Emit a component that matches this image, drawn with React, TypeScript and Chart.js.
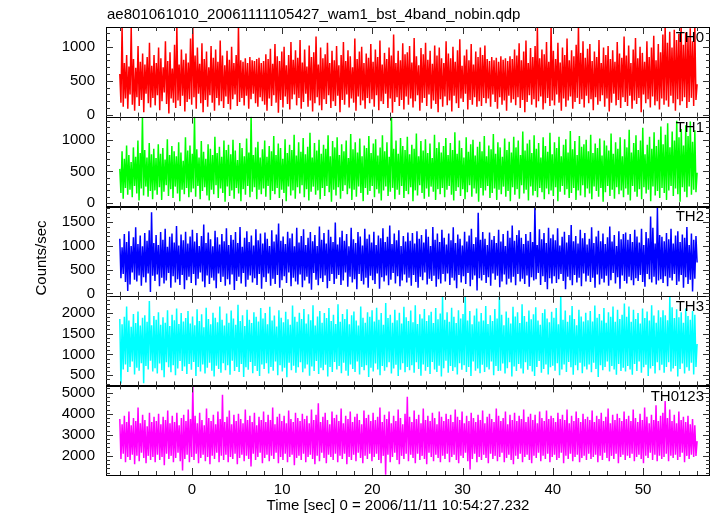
import React, { useEffect, useRef } from 'react';
import { Chart, registerables } from 'chart.js';

Chart.register(...registerables);

const TITLE = 'ae801061010_20061111105427_wam1_bst_4band_nobin.qdp';
const X_TITLE = 'Time [sec] 0 = 2006/11/11 10:54:27.232';
const Y_TITLE = 'Counts/sec';

const T_START = -8;
const T_END = 56;
const X_MIN = -9.53;
const X_MAX = 57.43;
const X_MAJOR = [0, 10, 20, 30, 40, 50];
const X_MINOR_STEP = 2;

const BANDS = ['TH0', 'TH1', 'TH2', 'TH3', 'TH0123'];
const COLORS = ['#ff0000', '#00ff00', '#0000ff', '#00ffff', '#ff00ff'];
const Y_MIN = [-25, -50, -50, 257, 1091];
const Y_MAX = [1290, 1367, 1836, 2405, 5344];
const Y_TICKS = [
  [0, 500, 1000],
  [0, 500, 1000],
  [0, 500, 1000, 1500],
  [500, 1000, 1500, 2000],
  [2000, 3000, 4000, 5000],
];
const Y_MINOR = [100, 100, 100, 100, 200];

const TH0 = [
  600, 180, 1290, 120, 760, 240, 880, 90, 710, 300, 1290, 150, 820, 60, 690, 260, 1010, 130, 780, 220, 900, 40, 740, 310, 850, 170, 1060, 110, 720, 250,
  880, 140, 760, 290, 990, 70, 830, 200, 700, 330, 1080, 160, 790, 20, 920, 240, 680, 180, 1030, 100, 1290, 210, 740, 130, 960, 280, 810, 50, 900, 190, 770,
  230, 1120, 150, 1300, 260, 870, 90, 990, 310, 750, 170, 1050, 40, 820, 220, 930, 120, 700, 290, 1010, 180, 840, 60, 960, 250, 780, 140, 1090, 200, 870, 100, 730,
  270, 940, 160, 810, 80, 1000, 230, 760, 300, 880, 130, 1300, 190, 800, 250, 780, 140, 830, 280, 760, 90, 850, 230, 800, 310, 790, 170, 820, 120, 840, 260,
  760, 200, 790, 150, 890, 60, 820, 240, 970, 130, 750, 290, 1040, 180, 860, 30, 790, 220, 930, 110, 1000, 270, 730, 160, 880, 80, 1070, 230, 810, 300, 950, 140,
  840, 250, 1100, 90, 770, 190, 960, 310, 710, 120, 1020, 210, 850, 50, 920, 170, 1150, 260, 740, 140, 990, 70, 830, 230, 890, 160, 1060, 290, 760, 100, 940, 200,
  800, 130, 1010, 280, 730, 40, 880, 220, 1070, 150, 790, 300, 950, 110, 860, 240, 700, 180, 1120, 60, 820, 270, 930, 140, 1000, 210, 760, 90, 900, 250, 840, 170,
  1040, 230, 780, 120, 960, 290, 850, 70, 1090, 200, 740, 160, 910, 310, 820, 100, 990, 240, 870, 30, 1180, 190, 760, 260, 940, 130, 800, 220, 1050, 80, 890, 270,
  920, 150, 1010, 240, 770, 110, 1130, 200, 860, 290, 730, 60, 980, 180, 890, 250, 1060, 130, 810, 300, 940, 90, 750, 210, 1020, 160, 870, 40, 990, 230, 830, 120,
  760, 270, 1080, 140, 900, 210, 830, 50, 1000, 280, 780, 170, 950, 100, 1110, 240, 720, 190, 870, 310, 960, 80, 800, 220, 1040, 150, 740, 260, 930, 120, 850, 200,
  990, 130, 880, 250, 1020, 170, 820, 240, 790, 120, 850, 300, 800, 190, 840, 90, 780, 260, 860, 150, 810, 210, 830, 60, 790, 280, 860, 180, 820, 230, 960, 140,
  870, 260, 1050, 100, 800, 220, 930, 40, 1090, 190, 760, 290, 980, 150, 850, 230, 1010, 110, 1290, 200, 830, 270, 960, 80, 890, 170, 1070, 250, 780, 130, 1300, 210,
  940, 140, 820, 300, 1060, 180, 770, 60, 990, 240, 880, 120, 1120, 210, 800, 270, 950, 90, 860, 190, 1030, 250, 1300, 160, 910, 230, 1080, 110, 840, 280, 970,
  170, 1040, 230, 790, 70, 930, 260, 850, 150, 1100, 200, 760, 290, 990, 120, 880, 240, 1010, 50, 820, 180, 950, 310, 780, 140, 1070, 220, 900, 100, 840, 260, 1150,
  190, 870, 130, 1020, 280, 760, 90, 960, 210, 1130, 160, 830, 250, 1000, 40, 910, 300, 780, 170, 1080, 230, 850, 110, 990, 270, 1160, 140, 800, 200, 1040, 80, 920,
  240, 1180, 150, 1300, 210, 1060, 120, 1220, 280, 990, 170, 1250, 60, 1100, 230, 1190, 140, 1280, 200, 1030, 260, 1210, 100, 1140, 190, 1270, 250, 1080, 130, 1300, 220,
  450,
];

const TH1 = [
  540, 160, 820, 70, 700, 240, 910, 130, 760, 210, 650, 90, 880, 270, 730, 150, 990, 40, 790, 230, 1360, 120, 840, 260, 720, 100, 950, 190, 770, 60, 860,
  200, 710, 130, 930, 250, 780, 50, 870, 180, 690, 280, 1010, 110, 760, 220, 900, 80, 820, 260, 740, 150, 960, 30, 800, 210, 670, 140, 1040, 240, 830, 90, 910,
  170, 780, 230, 1370, 100, 850, 270, 720, 60, 980, 190, 810, 250, 700, 120, 930, 40, 860, 210, 760, 140, 1050, 280, 790, 80, 890, 230, 730, 160, 990, 20, 840,
  260, 920, 110, 770, 200, 1000, 70, 830, 240, 680, 150, 950, 30, 870, 220, 740, 130, 1020, 270, 800, 90, 1370, 180, 760, 250, 880, 60, 970, 210, 720, 140,
  850, 230, 990, 100, 730, 270, 900, 50, 820, 190, 1060, 140, 760, 240, 940, 80, 870, 210, 700, 160, 1010, 30, 790, 260, 920, 120, 840, 200, 1080, 70, 750, 250,
  960, 150, 810, 280, 1030, 90, 770, 220, 890, 40, 1110, 180, 720, 260, 950, 130, 830, 200, 1000, 60, 780, 240, 920, 110, 860, 270, 1070, 170, 740, 20, 980, 210,
  880, 120, 1040, 250, 760, 70, 930, 190, 820, 280, 990, 140, 710, 230, 1090, 50, 850, 210, 960, 100, 800, 260, 1020, 160, 740, 30, 910, 240, 870, 130, 1060, 190,
  790, 270, 940, 90, 1010, 220, 750, 150, 880, 40, 1070, 200, 820, 260, 960, 110, 730, 180, 1370, 240, 860, 60, 990, 210, 780, 130, 1030, 270, 900, 80, 840, 190,
  1050, 140, 770, 250, 920, 30, 860, 200, 1100, 120, 740, 280, 980, 160, 830, 70, 1010, 230, 790, 100, 940, 260, 710, 180, 1080, 50, 870, 220, 960, 140, 800, 240,
  900, 90, 1030, 210, 760, 270, 950, 130, 840, 40, 1120, 190, 780, 250, 990, 110, 870, 220, 720, 60, 1040, 170, 810, 280, 930, 100, 1000, 230, 750, 150, 890, 20,
  970, 240, 820, 120, 1060, 200, 740, 270, 910, 80, 850, 160, 1090, 230, 780, 50, 960, 210, 880, 140, 730, 260, 1020, 100, 840, 190, 970, 30, 800, 250, 1050, 130,
  880, 220, 990, 70, 760, 280, 1130, 150, 830, 210, 940, 40, 1000, 260, 790, 120, 1070, 190, 860, 90, 950, 240, 720, 170, 1040, 60, 900, 230, 810, 140, 1110, 200,
  770, 110, 960, 250, 870, 30, 1050, 180, 740, 270, 920, 130, 1010, 220, 800, 80, 1140, 160, 850, 240, 980, 50, 760, 200, 1060, 120, 890, 280, 930, 90, 1000, 230,
  820, 150, 1080, 60, 790, 260, 940, 190, 870, 100, 1020, 240, 750, 20, 990, 170, 910, 270, 830, 110, 1100, 210, 780, 70, 960, 250, 860, 140, 1040, 200, 740, 90,
  1010, 230, 880, 130, 1160, 40, 800, 270, 950, 180, 1070, 100, 840, 220, 990, 60, 1190, 250, 770, 150, 920, 210, 1050, 30, 860, 260, 1120, 120, 900, 190, 1000, 80,
  1210, 240, 930, 160, 1080, 50, 1260, 200, 880, 270, 1130, 110, 990, 230, 1300, 140, 1040, 20, 1170, 250, 910, 180, 1230, 90, 1060, 260, 1290, 130, 970, 210, 1150, 170,
  480,
];

const TH2 = [
  1150, 320, 970, 410, 1250, 240, 1080, 50, 1310, 190, 1000, 440, 1180, 290, 1390, 250, 1040, 380, 1220, 160, 990, 340, 1270, 230, 1110, 420, 1330, 30, 1710, 370, 1060,
  260, 1230, 400, 1020, 150, 1290, 330, 1130, 210, 1360, 270, 980, 430, 1190, 120, 1260, 360, 1070, 230, 1420, 300, 1010, 180, 1240, 390, 1120, 90, 1300, 280, 1050, 350, 1200,
  220, 1340, 410, 1090, 170, 1270, 310, 1000, 440, 1210, 250, 1450, 130, 1060, 380, 1280, 200, 1140, 330, 990, 270, 1320, 110, 1180, 420, 1030, 240, 1250, 350, 1100, 160, 1370,
  300, 1020, 190, 1230, 400, 1130, 70, 1290, 260, 1060, 350, 1400, 210, 980, 430, 1170, 140, 1310, 290, 1080, 380, 1220, 230, 1010, 320, 1350, 180, 1120, 410, 1260, 100, 1050,
  340, 1280, 240, 1150, 420, 1000, 160, 1330, 310, 1090, 200, 1240, 390, 1470, 120, 1110, 280, 1200, 360, 1040, 220, 1300, 440, 1160, 150, 1260, 330, 990, 250, 1380, 190, 1070,
  400, 1210, 130, 1350, 270, 1020, 350, 1170, 210, 1290, 80, 1100, 430, 1230, 290, 1000, 170, 1410, 320, 1130, 240, 1270, 380, 1050, 110, 1340, 260, 1190, 410, 1080, 200, 1490,
  310, 1030, 390, 1180, 180, 1320, 270, 1110, 440, 1250, 140, 990, 350, 1380, 230, 1140, 300, 1060, 90, 1290, 410, 1200, 260, 1010, 190, 1360, 330, 1150, 120, 1240, 370, 1070,
  280, 1300, 200, 1020, 420, 1220, 100, 1160, 340, 1370, 250, 1080, 380, 1190, 170, 1430, 290, 1040, 430, 1260, 210, 1120, 360, 1330, 150, 1000, 270, 1210, 400, 1090, 230, 1280,
  330, 1110, 160, 1270, 390, 1050, 240, 1310, 120, 1150, 350, 1230, 280, 1070, 440, 1350, 190, 1190, 310, 1000, 260, 1400, 370, 1130, 140, 1260, 300, 1080, 210, 1340, 410, 1170,
  250, 1030, 420, 1260, 180, 1120, 330, 1390, 270, 1060, 110, 1240, 390, 1150, 230, 1010, 360, 1300, 200, 1090, 430, 1220, 150, 1360, 290, 1040, 380, 1180, 60, 1700, 320, 1130,
  270, 1290, 390, 1150, 220, 1020, 340, 1280, 160, 1130, 420, 1210, 290, 1060, 370, 1340, 130, 1090, 250, 1250, 400, 1000, 190, 1320, 310, 1170, 230, 1430, 350, 1110, 170, 1230,
  410, 1330, 250, 1170, 310, 1040, 200, 1250, 380, 1110, 140, 1290, 340, 1080, 270, 1830, 300, 1020, 430, 1350, 180, 1140, 360, 1270, 240, 1060, 90, 1380, 320, 1160, 210,
  1240, 360, 1120, 220, 1370, 300, 1010, 410, 1190, 260, 1300, 90, 1070, 350, 1230, 280, 1440, 170, 1100, 390, 1210, 230, 1050, 330, 1340, 150, 1160, 420, 1270, 250, 1030, 370,
  1150, 240, 1390, 330, 1060, 120, 1200, 400, 1320, 190, 1100, 310, 1260, 230, 1040, 370, 1180, 160, 1410, 280, 1090, 430, 1230, 210, 1000, 340, 1310, 100, 1140, 380, 1250, 260,
  1280, 210, 1130, 350, 1250, 280, 1080, 170, 1340, 320, 1200, 260, 1070, 390, 1360, 240, 1020, 140, 1290, 410, 1160, 300, 1620, 230, 1380, 350, 1050, 190, 1800, 270, 1230,
  300, 1190, 220, 1100, 360, 1270, 150, 1140, 330, 1360, 270, 1050, 410, 1220, 180, 1310, 250, 1080, 390, 1240, 120, 1170, 340, 1400, 200, 1020, 290, 1260, 40, 1130, 310, 1210,
  650,
];

const TH3 = [
  1850, 300, 1720, 640, 1900, 760, 2150, 580, 1810, 700, 1660, 830, 1970, 520, 1750, 680, 2030, 610, 1690, 790, 1880, 310, 1940, 720, 1780, 640, 2280, 850, 1700, 590, 1920,
  670, 1830, 540, 2010, 780, 1710, 620, 1890, 450, 1760, 810, 2060, 690, 1680, 570, 1950, 740, 1820, 500, 2100, 660, 1730, 840, 1990, 600, 1790, 710, 1870, 530, 2040, 770, 1740,
  630, 1910, 820, 1700, 480, 2080, 700, 1800, 590, 1960, 760, 1650, 540, 2120, 680, 1850, 800, 1720, 610, 2000, 470, 1880, 730, 1770, 650, 2150, 560, 1830, 790, 1690, 620, 1980,
  740, 1760, 510, 2050, 850, 1860, 600, 1710, 700, 2190, 580, 1800, 770, 1940, 460, 1680, 690, 2070, 630, 1830, 820, 1750, 550, 2010, 720, 1900, 600, 1790, 480, 2110, 760, 1860,
  650, 1990, 790, 1720, 540, 2140, 700, 1810, 610, 1930, 830, 1670, 500, 2060, 740, 1880, 590, 1770, 680, 2020, 450, 1840, 800, 1710, 620, 2170, 730, 1900, 560, 1780, 690, 2000,
  810, 1850, 570, 2090, 660, 1740, 760, 1960, 490, 1820, 710, 2180, 600, 1690, 840, 1910, 530, 2040, 680, 1760, 620, 1990, 750, 1870, 470, 2110, 700, 1800, 580, 1950, 820, 1730,
  640, 2200, 720, 1780, 550, 1970, 800, 1850, 610, 2080, 490, 1720, 760, 1940, 650, 2030, 580, 1810, 830, 1690, 520, 2150, 700, 1880, 620, 1760, 740, 2010, 460, 1900, 680, 2060,
  590, 1790, 780, 2120, 640, 1830, 500, 1990, 720, 1710, 610, 2230, 690, 1870, 810, 1950, 540, 1760, 660, 2070, 750, 1820, 480, 2000, 630, 1740, 790, 2140, 570, 1890, 700, 1800,
  620, 2050, 740, 1770, 560, 2180, 810, 1730, 650, 1960, 490, 1860, 760, 2090, 610, 1800, 700, 1940, 530, 2020, 820, 1750, 640, 2110, 580, 1840, 730, 1980, 470, 2390, 670,
  1830, 850, 2010, 560, 1780, 720, 2120, 600, 1900, 690, 1750, 520, 2060, 790, 1860, 630, 1970, 740, 2400, 580, 1810, 700, 2040, 480, 1720, 830, 1930, 610, 2100, 660, 1790, 550,
  1990, 750, 1810, 580, 2160, 690, 1730, 640, 1940, 830, 1800, 500, 2090, 720, 1860, 600, 2390, 610, 1950, 780, 1700, 540, 2030, 670, 1880, 810, 1740, 470, 2140, 710, 1910,
  600, 2010, 770, 1750, 660, 2200, 540, 1920, 810, 1780, 630, 2050, 720, 1840, 590, 1960, 480, 2130, 700, 1810, 840, 1710, 560, 1990, 650, 2080, 760, 1860, 520, 1770, 690, 2020,
  730, 1880, 610, 2110, 790, 1720, 500, 2400, 640, 1830, 760, 2050, 580, 1780, 820, 1940, 690, 2160, 510, 1850, 740, 1700, 620, 2070, 800, 1910, 550, 1790, 710, 2000, 640,
  1820, 760, 2040, 570, 1790, 800, 2170, 650, 1880, 460, 1970, 740, 1810, 620, 2110, 700, 1760, 830, 2010, 590, 1900, 720, 2150, 640, 1780, 510, 2070, 770, 1850, 600, 1950, 680,
  2220, 590, 1900, 720, 2150, 640, 1780, 510, 2070, 770, 1850, 600, 1990, 830, 1740, 560, 2100, 690, 1870, 750, 2030, 480, 1810, 660, 2180, 720, 1930, 540, 1760, 810, 2060, 620,
  1890, 750, 2060, 560, 1940, 700, 1820, 810, 2400, 590, 2130, 660, 1870, 720, 2080, 470, 1890, 650, 2010, 780, 1760, 540, 2100, 690, 1920, 610, 1830, 800, 2040, 520, 1950, 700,
  1250,
];

const TH0123 = [
  3750, 1850, 3500, 2100, 3900, 1700, 3600, 1950, 4100, 1800, 3450, 2050, 3800, 1600, 3650, 2000, 4300, 1750, 3550, 2150, 3950, 1900, 3700, 1650, 3400, 2000, 4050, 1800, 3600, 1950, 3850, 1700,
  3650, 2050, 4000, 1800, 3500, 1950, 3850, 1550, 3700, 2100, 4150, 1850, 3550, 2000, 3900, 1700, 3600, 1900, 4050, 2150, 3450, 1750, 3800, 1300, 3950, 1850, 3650, 2050, 4200, 1700, 3750,
  1950, 5300, 1800, 3900, 2100, 3550, 1650, 4050, 1900, 3700, 2050, 3450, 1750, 4250, 1950, 3800, 1600, 3650, 2000, 3950, 1850, 3500, 2150, 4100, 1700, 3750, 2000, 4900, 1800, 3600, 2050,
  3850, 1700, 4150, 1950, 3500, 1850, 3950, 2100, 3650, 1600, 4000, 1900, 3750, 2050, 3550, 1750, 4200, 2000, 3700, 1850, 3900, 1500, 3600, 2100, 4050, 1800, 3450, 1950, 3850, 2150, 3700, 1650,
  4100, 1900, 3600, 2050, 3950, 1750, 3700, 2000, 4300, 1850, 3500, 2150, 3850, 1650, 4000, 1950, 3650, 1800, 3900, 2100, 3550, 1700, 4150, 1950, 3750, 2050, 3600, 1550, 4050, 1900, 3800, 2000,
  3650, 1800, 4000, 2100, 3750, 1700, 3900, 1950, 3550, 2050, 4200, 1850, 3700, 1600, 3950, 2000, 4500, 1750, 3600, 2150, 3850, 1900, 4050, 1650, 3700, 2050, 3500, 1950, 4100, 1800, 3800, 2100,
  3950, 1700, 3650, 2000, 4250, 1850, 3550, 2100, 3900, 1600, 3750, 1950, 4100, 1800, 3600, 2050, 3850, 1750, 4000, 2150, 3700, 1900, 3500, 1650, 4150, 2000, 3800, 1850, 3950, 2100, 3650, 1750,
  4050, 1950, 3700, 2100, 3850, 1800, 4300, 1650, 3600, 2000, 3950, 1100, 3750, 2050, 4100, 1700, 3550, 1950, 3900, 2150, 3650, 1800, 4200, 1600, 3800, 2000, 3500, 1850, 4000, 2100,
  4800, 1750, 3850, 2050, 3600, 1900, 4150, 1650, 3750, 2100, 3950, 1800, 3550, 2000, 4250, 1850, 3700, 1600, 3900, 2150, 3650, 1950, 4050, 1750, 3800, 2050, 3500, 1900, 4100, 1700, 3850, 2000,
  3650, 1850, 4000, 2100, 3750, 1700, 3950, 1950, 3600, 2050, 4200, 1800, 3850, 1650, 3700, 2000, 4100, 1900, 3550, 2150, 3900, 1750, 3650, 1350, 4050, 1850, 3800, 2100, 3600, 1700, 3950,
  1950, 3700, 1800, 4150, 2050, 3550, 1900, 3850, 1650, 4000, 2100, 3750, 1850, 3600, 2000, 4250, 1750, 3900, 1950, 3650, 2150, 3800, 1700, 4100, 1900, 3500, 2050, 3950, 1800, 3700, 1600, 4050,
  2000, 3650, 1850, 3900, 2100, 3750, 1700, 4200, 1950, 3600, 2050, 3850, 1800, 4000, 1650, 3700, 2000, 3950, 1900, 3550, 2150, 4100, 1750, 3800, 2000, 3650, 1850, 4150, 2100, 3750, 1700, 3900,
  1950, 3800, 2050, 3600, 1800, 4050, 1900, 3750, 2150, 3950, 1650, 3700, 2000, 4200, 1850, 3550, 2100, 3900, 1750, 3650, 1950, 4100, 2050, 3800, 1700, 3600, 1900, 4000, 2000, 3750, 1800, 3850,
  2100, 3700, 1850, 4150, 1950, 3600, 2050, 3900, 1700, 3750, 2000, 4050, 1800, 3650, 2150, 3850, 1900, 4250, 1750, 3550, 2000, 3950, 1850, 3700, 2100, 4000, 1650, 3800, 1950, 3650, 2050, 4100,
  1800, 3750, 2000, 3900, 1900, 3650, 2100, 4200, 1750, 3800, 1950, 3600, 2050, 4000, 1850, 3700, 1650, 4300, 2000, 3850, 1900, 3550, 2150, 3950, 1800, 3700, 2050, 4400, 1750, 3650, 2000, 3900,
  1850, 4050, 1950, 4600, 2100, 3800, 1750, 4200, 2000, 3650, 1900, 3950, 2050, 3550, 1800, 4100, 1950, 3700, 2150, 3850, 1700, 3600, 2000, 3900, 1850, 3500, 2050, 3750, 1950, 3450, 2000,
  2700,
];

const SERIES = [TH0, TH1, TH2, TH3, TH0123];

const FONT = "'Liberation Sans', Arial, Helvetica, sans-serif";

const qdpPlugin = {
  id: 'qdpFrame',
  beforeDatasetDraw(chart: any, args: any) {
    const ys = chart.scales[args.meta.yAxisID];
    const ca = chart.chartArea;
    const ctx = chart.ctx;
    ctx.save();
    ctx.beginPath();
    ctx.rect(ca.left, ys.top, ca.right - ca.left, ys.bottom - ys.top);
    ctx.clip();
  },
  afterDatasetDraw(chart: any) {
    chart.ctx.restore();
  },
  afterDraw(chart: any) {
    const ctx = chart.ctx;
    const ca = chart.chartArea;
    const xs = chart.scales.x;
    const L = ca.left;
    const R = ca.right;
    ctx.save();
    ctx.lineWidth = 1;
    const line = (x1: number, y1: number, x2: number, y2: number) => {
      ctx.beginPath();
      ctx.moveTo(x1, y1);
      ctx.lineTo(x2, y2);
      ctx.stroke();
    };
    BANDS.forEach((name, k) => {
      const ys = chart.scales['y' + k];
      const top = ys.top;
      const bot = ys.bottom;
      ctx.strokeStyle = '#000';
      ctx.strokeRect(Math.round(L) + 0.5, Math.round(top) + 0.5, Math.round(R - L) - 1, Math.round(bot - top));
      ctx.strokeStyle = '#333';
      const first = Math.ceil(Y_MIN[k] / Y_MINOR[k]) * Y_MINOR[k];
      for (let v = first; v <= Y_MAX[k]; v += Y_MINOR[k]) {
        const major = Y_TICKS[k].includes(v);
        const len = major ? 7 : 4;
        const py = Math.round(ys.getPixelForValue(v)) + 0.5;
        line(L, py, L + len, py);
        line(R, py, R - len, py);
      }
      for (let t = T_START; t <= T_END; t += X_MINOR_STEP) {
        const major = X_MAJOR.includes(t);
        const len = major ? 7 : 4;
        const px = Math.round(xs.getPixelForValue(t)) + 0.5;
        line(px, top, px, top + len);
        line(px, bot, px, bot - len);
      }
      ctx.fillStyle = '#000';
      ctx.font = `15px ${FONT}`;
      ctx.textAlign = 'right';
      ctx.textBaseline = 'middle';
      ctx.fillText(name, R - 6, top + 11);
    });
    ctx.fillStyle = '#000';
    ctx.font = `15px ${FONT}`;
    ctx.textAlign = 'left';
    ctx.textBaseline = 'middle';
    ctx.fillText(TITLE, L + 1, 15);
    ctx.textAlign = 'center';
    ctx.fillText(X_TITLE, 398, 506);
    ctx.save();
    ctx.translate(42, 258);
    ctx.rotate(-Math.PI / 2);
    ctx.fillText(Y_TITLE, 0, 0);
    ctx.restore();
    ctx.restore();
  },
};

export default function App() {
  const ref = useRef<HTMLCanvasElement | null>(null);
  useEffect(() => {
    if (!ref.current) return;
    Chart.defaults.font.family = FONT;
    Chart.defaults.color = '#000';
    const datasets = SERIES.map((vals, k) => ({
      label: BANDS[k],
      data: vals.map((v, i) => ({ x: T_START + (i * (T_END - T_START)) / (vals.length - 1), y: v })),
      borderColor: COLORS[k],
      backgroundColor: COLORS[k],
      borderWidth: 1.5,
      pointRadius: 0,
      tension: 0,
      fill: false,
      yAxisID: 'y' + k,
    }));
    const scales: any = {
      x: {
        type: 'linear',
        position: 'bottom',
        min: X_MIN,
        max: X_MAX,
        afterBuildTicks: (s: any) => {
          s.ticks = X_MAJOR.map((v) => ({ value: v }));
        },
        afterFit: (s: any) => {
          s.height = 41;
        },
        grid: { display: false, drawTicks: false },
        border: { display: false },
        ticks: { padding: 6, font: { size: 15 }, color: '#000', autoSkip: false, maxRotation: 0, callback: (v: any) => String(v) },
      },
    };
    BANDS.forEach((b, k) => {
      scales['y' + k] = {
        type: 'linear',
        position: 'left',
        stack: 'panels',
        stackWeight: 1,
        weight: BANDS.length - k,
        min: Y_MIN[k],
        max: Y_MAX[k],
        afterBuildTicks: (s: any) => {
          s.ticks = Y_TICKS[k].map((v) => ({ value: v }));
        },
        afterFit: (s: any) => {
          s.width = 60;
        },
        grid: { display: false, drawTicks: false },
        border: { display: false },
        ticks: { padding: 11, font: { size: 15 }, color: '#000', autoSkip: false, callback: (v: any) => String(v) },
      };
    });
    const chart = new Chart(ref.current, {
      type: 'line',
      data: { datasets },
      options: {
        animation: false,
        responsive: false,
        devicePixelRatio: 1,
        events: [],
        layout: { padding: { left: 46, right: 7, top: 27, bottom: 0 } },
        plugins: { legend: { display: false }, title: { display: false }, tooltip: { enabled: false } },
        scales,
      } as any,
      plugins: [qdpPlugin],
    });
    return () => chart.destroy();
  }, []);
  return (
    <div style={{ position: 'absolute', left: 0, top: 0, width: 717, height: 516, background: '#fff' }}>
      <canvas ref={ref} width={717} height={516} style={{ width: 717, height: 516, display: 'block' }} />
    </div>
  );
}
